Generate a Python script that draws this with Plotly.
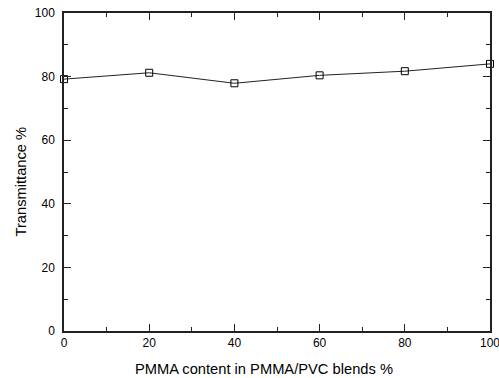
import plotly.graph_objects as go

pmma_content = [0, 20, 40, 60, 80, 100]
transmittance = [79.2, 81.2, 77.9, 80.4, 81.7, 84.0]

x_ticks = [0, 20, 40, 60, 80, 100]
y_ticks = [0, 20, 40, 60, 80, 100]

FONT = "Liberation Sans, Arial, sans-serif"

fig = go.Figure()
fig.add_trace(go.Scatter(
    x=pmma_content, y=transmittance, mode="lines+markers",
    line=dict(color="#222222", width=1),
    marker=dict(symbol="square-open", size=7, color="black", line=dict(width=1)),
    cliponaxis=False, showlegend=False,
))

axis_common = dict(
    showgrid=False, zeroline=False, showline=True, linecolor="#222222", linewidth=1.5,
    mirror="ticks", ticks="inside", ticklen=7, tickwidth=1, tickcolor="#222222",
    minor=dict(ticks="inside", ticklen=4, dtick=10, tickcolor="#222222", tickwidth=1),
    tickfont=dict(family=FONT, size=12, color="black"),
    automargin=False, ticklabeloverflow="allow",
)

fig.update_xaxes(range=[0, 100], tickvals=x_ticks, **axis_common)
fig.update_yaxes(range=[0, 100], tickvals=y_ticks, ticklabelstandoff=5, **axis_common)

fig.add_annotation(text="PMMA content in PMMA/PVC blends %", xref="paper", yref="paper",
                   x=(264 - 64) / 426, y=-(369 - 331) / 318, xanchor="center", yanchor="middle",
                   showarrow=False, font=dict(family=FONT, size=14.7, color="black"))
fig.add_annotation(text="Transmittance %", xref="paper", yref="paper",
                   x=-(64 - 20.5) / 426, y=(331 - 182) / 318, xanchor="center", yanchor="middle",
                   showarrow=False, textangle=-90, font=dict(family=FONT, size=14.7, color="black"))

fig.update_layout(
    width=499, height=378,
    margin=dict(l=64, r=9, t=13, b=47),
    plot_bgcolor="white", paper_bgcolor="white",
)

fig.write_html("out.html", config={"displayModeBar": False},
               post_script="document.body.style.margin='0';document.body.style.overflow='hidden';")
